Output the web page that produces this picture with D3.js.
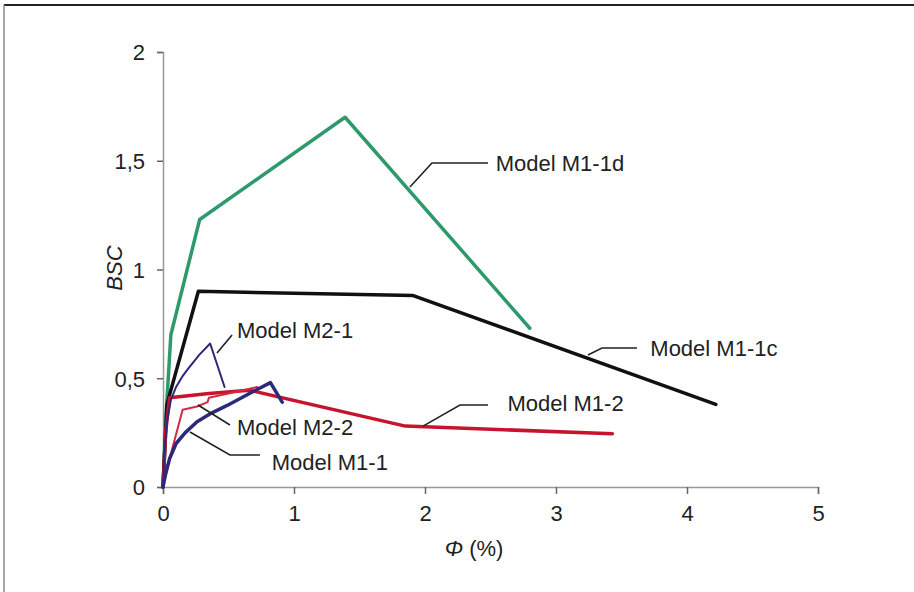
<!DOCTYPE html>
<html>
<head>
<meta charset="utf-8">
<script src="https://cdn.jsdelivr.net/npm/d3@7"></script>
<style>
    body{ margin:0; background:#fff; }
    text{ font-family: Arial, "Liberation Sans", sans-serif; fill:#222; }
</style>
</head>
<body>
<div id="graph"></div>
<script>
// values
const xTicks = [0, 1, 2, 3, 4, 5];
const yTicks = [0, 0.5, 1, 1.5, 2];

const m11dPhi = [0, 0.02, 0.06, 0.28, 1.39, 2.80];
const m11dBsc = [0, 0.30, 0.70, 1.23, 1.70, 0.73];

const m11cPhi = [0, 0.03, 0.27, 1.91, 4.22];
const m11cBsc = [0, 0.38, 0.90, 0.88, 0.38];

const m21Phi = [0, 0.01, 0.03, 0.06, 0.10, 0.15, 0.20, 0.28, 0.36, 0.47];
const m21Bsc = [0, 0.15, 0.30, 0.40, 0.46, 0.51, 0.55, 0.61, 0.66, 0.46];

const m11Phi = [0, 0.02, 0.05, 0.10, 0.17, 0.26, 0.37, 0.49, 0.66, 0.82, 0.91];
const m11Bsc = [0, 0.06, 0.13, 0.20, 0.25, 0.30, 0.34, 0.375, 0.43, 0.48, 0.39];

const m12Phi = [0, 0.02, 0.05, 0.35, 0.66, 1.85, 3.43];
const m12Bsc = [0, 0.25, 0.41, 0.43, 0.445, 0.28, 0.245];

const m22Phi = [0, 0.05, 0.15, 0.26, 0.34, 0.35, 0.50, 0.72];
const m22Bsc = [0, 0.13, 0.355, 0.37, 0.39, 0.41, 0.43, 0.46];

const series = [
    {phi: m11dPhi, bsc: m11dBsc, color: '#2e9a6c', width: 3.5},
    {phi: m11cPhi, bsc: m11cBsc, color: '#111111', width: 3.5},
    {phi: m12Phi,  bsc: m12Bsc,  color: '#c8132f', width: 3.5},
    {phi: m22Phi,  bsc: m22Bsc,  color: '#d22a44', width: 2},
    {phi: m11Phi,  bsc: m11Bsc,  color: '#2c2a78', width: 3.5},
    {phi: m21Phi,  bsc: m21Bsc,  color: '#2c2a78', width: 2}
];

// leader lines (in data units) and label positions
const notes = [
    {label: 'Model M1-1d', pts: [[1.885, 1.379], [2.053, 1.49], [2.481, 1.49]], at: [2.54, 1.49]},
    {label: 'Model M1-1c', pts: [[3.244, 0.607], [3.351, 0.639], [3.618, 0.639]], at: [3.72, 0.639]},
    {label: 'Model M1-2',  pts: [[1.985, 0.28], [2.267, 0.377], [2.481, 0.377]], at: [2.63, 0.386]},
    {label: 'Model M2-1',  pts: [[0.412, 0.616], [0.527, 0.699]], at: [0.565, 0.722]},
    {label: 'Model M2-2',  pts: [[0.267, 0.377], [0.511, 0.285]], at: [0.565, 0.276]},
    {label: 'Model M1-1',  pts: [[0.206, 0.253], [0.511, 0.147], [0.74, 0.147]], at: [0.83, 0.115]}
];

const w = 914, h = 592;
const svg = d3.select('#graph').append('svg')
    .attr('width', w)
    .attr('height', h);

// frame
svg.append('line').attr('x1', 4).attr('x2', w).attr('y1', 5).attr('y2', 5)
    .style('stroke', '#222').style('stroke-width', 2);
svg.append('line').attr('x1', 4).attr('x2', 4).attr('y1', 5).attr('y2', h)
    .style('stroke', '#888').style('stroke-width', 1.5);

const xScale = d3.scaleLinear().domain([0, 5]).range([163, 818]);
const yScale = d3.scaleLinear().domain([0, 2]).range([487, 52]);

const fmt = d => String(d).replace('.', ',');

const xAxis = d3.axisBottom(xScale).tickValues(xTicks).tickSize(7).tickPadding(11).tickFormat(fmt);
const yAxis = d3.axisLeft(yScale).tickValues(yTicks).tickSize(6).tickPadding(12).tickFormat(fmt);

const gx = svg.append('g')
    .attr('transform', 'translate(0,' + yScale(0) + ')')
    .call(xAxis);
const gy = svg.append('g')
    .attr('transform', 'translate(' + xScale(0) + ',0)')
    .call(yAxis);

[gx, gy].forEach(g => {
    g.select('.domain').style('stroke', '#999').style('stroke-width', 1.5);
    g.selectAll('.tick line').style('stroke', '#666').style('stroke-width', 1.5);
    g.selectAll('.tick text').style('font-size', '22px').style('fill', '#222')
        .style('font-family', 'Arial, "Liberation Sans", sans-serif');
});
gy.selectAll('.tick text').attr('dy', '0.36em');

// axis titles
svg.append('text')
    .attr('transform', 'translate(122,268) rotate(-90)')
    .attr('text-anchor', 'middle')
    .style('font-size', '22px')
    .style('font-style', 'italic')
    .text('BSC');

const xt = svg.append('text')
    .attr('x', 474).attr('y', 556)
    .attr('text-anchor', 'middle')
    .style('font-size', '22px');
xt.append('tspan').style('font-style', 'italic').text('Φ');
xt.append('tspan').text(' (%)');

// curves
const line = d3.line()
    .x(d => xScale(d[0]))
    .y(d => yScale(d[1]));

svg.selectAll('.curve')
    .data(series)
    .enter()
    .append('path')
    .attr('class', 'curve')
    .attr('d', s => line(s.phi.map((p, i) => [p, s.bsc[i]])))
    .style('fill', 'none')
    .style('stroke', s => s.color)
    .style('stroke-width', s => s.width)
    .style('stroke-linejoin', 'round')
    .style('stroke-linecap', 'round');

// annotations
svg.selectAll('.leader')
    .data(notes)
    .enter()
    .append('path')
    .attr('class', 'leader')
    .attr('d', n => line(n.pts))
    .style('fill', 'none')
    .style('stroke', '#222')
    .style('stroke-width', 1.6);

svg.selectAll('.note')
    .data(notes)
    .enter()
    .append('text')
    .attr('class', 'note')
    .attr('x', n => xScale(n.at[0]))
    .attr('y', n => yScale(n.at[1]))
    .attr('dy', '0.36em')
    .style('font-size', '22px')
    .text(n => n.label);
</script>
</body>
</html>
